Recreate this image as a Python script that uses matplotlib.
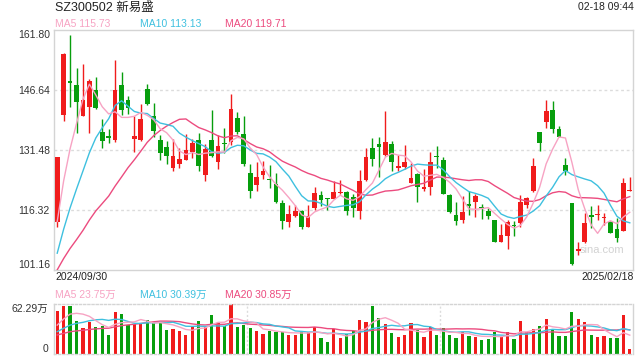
import numpy as np
import pandas as pd
import matplotlib
matplotlib.use("Agg")
import matplotlib.pyplot as plt

plt.rcParams['font.family'] = ['Liberation Sans', 'Noto Sans CJK SC', 'DejaVu Sans']

# daily candles 2024/09/30 .. 2025/02/18
open_ = [113.2, 140.2, 148.8, 147.7, 140.1, 142.2, 146.6, 135.9, 134.9, 134.0,
         147.8, 144.0, 134.3, 134.0, 146.9, 140.1, 134.0, 132.1, 127.0, 128.0,
         129.0, 130.8, 134.0, 125.0, 134.0, 128.3, 133.1, 133.4, 139.5, 135.5,
         125.6, 122.5, 125.0, 124.0, 122.8, 118.0, 113.2, 114.9, 116.1, 112.1,
         116.9, 120.1, 119.2, 119.1, 120.6, 120.8, 119.5, 116.1, 123.9, 131.9,
         133.0, 130.2, 133.0, 126.9, 127.1, 123.2, 125.4, 121.7, 122.0, 130.0,
         129.0, 120.1, 115.1, 113.8, 117.8, 118.2, 117.0, 116.1, 113.8, 108.3,
         109.8, 112.5, 113.1, 117.6, 121.0, 135.9, 138.4, 141.6, 136.7, 127.7,
         118.0, 106.0, 108.1, 115.0, 115.0, 114.3, 113.2, 111.5, 111.1, 121.0]
high = [129.7, 156.0, 160.3, 152.0, 153.0, 149.4, 149.9, 139.2, 136.7, 154.0,
        151.0, 145.1, 140.1, 142.9, 148.1, 143.2, 135.1, 133.6, 134.3, 131.9,
        135.5, 134.3, 135.6, 132.9, 141.5, 135.3, 137.0, 145.6, 141.0, 139.9,
        127.9, 128.5, 128.7, 127.7, 125.6, 118.7, 117.6, 117.6, 116.3, 117.6,
        122.0, 121.2, 119.4, 123.7, 123.9, 121.0, 120.3, 126.4, 131.9, 134.4,
        134.8, 141.2, 133.6, 130.2, 132.7, 128.1, 125.6, 126.7, 130.9, 132.5,
        129.6, 120.3, 118.4, 119.9, 121.0, 120.4, 117.8, 116.9, 113.8, 112.7,
        113.8, 113.5, 120.1, 119.5, 129.4, 136.0, 144.1, 143.7, 137.5, 129.4,
        118.0, 108.3, 115.5, 117.2, 117.6, 115.5, 113.4, 114.2, 124.3, 124.7]
low = [112.1, 138.8, 142.2, 135.6, 139.9, 135.6, 141.8, 131.9, 133.1, 133.4,
       140.3, 140.5, 130.9, 133.8, 142.7, 134.8, 128.9, 127.9, 126.2, 126.8,
       128.8, 129.4, 126.2, 123.7, 129.6, 126.6, 130.6, 132.7, 135.4, 127.3,
       119.3, 121.2, 124.2, 121.8, 118.0, 111.4, 112.1, 114.4, 111.5, 112.0,
       116.3, 117.2, 116.3, 119.0, 120.3, 115.1, 114.6, 114.0, 123.7, 127.5,
       124.7, 130.0, 126.0, 126.0, 126.7, 123.1, 118.2, 121.2, 120.1, 126.9,
       120.3, 115.5, 112.5, 113.0, 115.1, 114.6, 114.0, 114.0, 108.3, 108.2,
       106.4, 109.8, 112.1, 116.9, 120.8, 131.1, 137.0, 135.7, 134.6, 125.0,
       102.3, 105.0, 108.0, 111.8, 113.8, 112.5, 110.4, 108.1, 111.0, 121.0]
close = [129.7, 155.7, 148.4, 143.4, 143.9, 148.7, 142.0, 133.6, 134.4, 146.6,
         141.6, 142.0, 135.0, 139.3, 142.9, 136.1, 130.6, 130.0, 130.0, 129.2,
         131.5, 133.2, 127.5, 131.7, 129.8, 132.5, 132.9, 141.8, 136.0, 127.9,
         121.0, 124.6, 126.2, 123.8, 118.2, 113.6, 115.3, 116.1, 112.1, 114.8,
         120.7, 118.7, 119.0, 120.8, 120.9, 116.1, 116.9, 123.7, 129.6, 129.2,
         132.1, 133.4, 128.5, 127.4, 128.4, 124.3, 122.0, 122.0, 128.5, 129.6,
         120.4, 115.9, 113.6, 115.7, 117.2, 119.9, 116.8, 114.9, 108.3, 110.0,
         113.2, 112.2, 118.3, 119.3, 127.4, 133.3, 141.3, 136.8, 134.8, 126.0,
         102.7, 106.5, 113.0, 114.6, 115.2, 114.5, 110.6, 109.2, 123.1, 121.2]
# volume in 万手
volume = [54.0, 60.2, 60.2, 41.1, 32.8, 40.3, 33.6, 34.9, 23.7, 52.7,
          50.3, 36.1, 37.4, 38.2, 42.4, 39.0, 39.0, 29.9, 31.1, 29.1,
          23.7, 34.1, 41.1, 34.1, 48.6, 39.0, 35.3, 62.29, 33.6, 36.1,
          32.4, 28.7, 24.9, 28.7, 27.8, 27.8, 23.7, 23.7, 27.8, 27.8,
          34.1, 20.3, 15.4, 31.1, 20.3, 24.9, 28.7, 42.4, 40.3, 60.2,
          45.3, 37.8, 26.6, 21.6, 23.7, 39.0, 29.9, 21.6, 34.1, 23.7,
          32.8, 23.7, 20.3, 27.8, 22.8, 21.6, 17.9, 19.1, 27.8, 21.6,
          27.8, 19.1, 41.5, 27.8, 31.6, 35.3, 44.0, 30.7, 22.8, 22.8,
          52.7, 44.0, 40.3, 23.7, 21.0, 22.5, 20.3, 20.3, 48.5, 5.8]
# closes / volumes before the window, needed for the moving averages
prev_close = [98.5, 97.8, 99.0, 97.2, 96.5, 95.8, 96.4, 97.0, 96.0, 95.8,
              95.2, 94.6, 96.0, 98.4, 102.8, 104.5, 108.0, 111.6, 113.2]
prev_vol = [20, 19, 21, 18, 19, 20, 22, 19, 18, 20,
            18, 21, 19, 20, 20, 22, 30, 36, 38]

# values printed in the legends
ma_labels = ['MA5 115.73', 'MA10 113.13', 'MA20 119.71']
vma_labels = ['MA5 23.75万', 'MA10 30.39万', 'MA20 30.85万']

price_ticks = [161.80, 146.64, 131.48, 116.32, 101.16]
vol_max = 62.29

RED = '#f01c1c'
GREEN = '#079e0d'
C_MA5 = '#f7a3c3'
C_MA10 = '#3ec0df'
C_MA20 = '#ec4b7f'
GRID = '#dcdcdc'

W, H = 640, 360
fig = plt.figure(figsize=(6.4, 3.6), dpi=100)


def fx(px):
    return px / W


def fy(py):
    return 1 - py / H


ax = fig.add_axes([fx(54), fy(270), fx(633) - fx(54), fy(29.5) - fy(270)])
axv = fig.add_axes([fx(54), fy(354), fx(633) - fx(54), fy(304) - fy(354)])

o = np.array(open_)
h = np.array(high)
l = np.array(low)
c = np.array(close)
v = np.array(volume)
x = np.arange(len(c))
cols = np.where(c >= o, RED, GREEN)

# moving averages
npre = len(prev_close)
cs = pd.Series(prev_close + close)
vs = pd.Series(prev_vol + volume)
ma = {k: cs.rolling(k).mean().values[npre:] for k in (5, 10, 20)}
vma = {k: vs.rolling(k).mean().values[npre:] for k in (5, 10, 20)}

# price panel
for gv in price_ticks[1:-1]:
    ax.axhline(gv, color=GRID, lw=1, ls=(0, (2, 2)), zorder=0)
ax.vlines(x, l, h, colors=cols, lw=1, zorder=2)
body = np.maximum(np.abs(c - o), 0.3)
ax.bar(x, body, bottom=np.minimum(o, c), width=0.74, color=cols, lw=0, zorder=3)
ax.plot(x, ma[20], color=C_MA20, lw=1, zorder=4)
ax.plot(x, ma[10], color=C_MA10, lw=1, zorder=4)
ax.plot(x, ma[5], color=C_MA5, lw=1, zorder=4)
ax.set_xlim(-0.5, len(c) - 0.5)
ax.set_ylim(price_ticks[-1], price_ticks[0])
ax.set_xticks([])
ax.set_yticks(price_ticks)
ax.set_yticklabels([f'{t:.2f}' for t in price_ticks])
ax.tick_params(axis='y', length=0, pad=3, labelsize=7.5, labelcolor='#333333')
lbls = ax.get_yticklabels()
lbls[0].set_va('top')
lbls[-1].set_va('bottom')
for s in ax.spines.values():
    s.set_color('#d4d4d4')
    s.set_linewidth(1)
ax.text(0.985, 0.085, 'sina.com', transform=ax.transAxes, ha='right', va='center',
        fontsize=8, color='#d2d2d2', zorder=1)

# volume panel
xl = (-0.5, len(c) - 0.5)
for k in (1, 2):
    axv.axvline(xl[0] + (xl[1] - xl[0]) * k / 3, color=GRID, lw=1, ls=(0, (1.5, 1.5)), zorder=0)
axv.bar(x, v, width=0.5, color=cols, lw=0, zorder=2)
axv.plot(x, vma[20], color=C_MA20, lw=1, zorder=3)
axv.plot(x, vma[10], color=C_MA10, lw=1, zorder=3)
axv.plot(x, vma[5], color=C_MA5, lw=1, zorder=3)
axv.set_xlim(*xl)
axv.set_ylim(0, vol_max)
axv.set_xticks([])
axv.set_yticks([0, vol_max])
axv.set_yticklabels(['0', f'{vol_max:.2f}万'])
axv.tick_params(axis='y', length=0, pad=4, labelsize=7.5, labelcolor='#333333')
vl = axv.get_yticklabels()
vl[0].set_va('bottom')
vl[1].set_va('top')
for name, s in axv.spines.items():
    s.set_color('#d4d4d4')
    s.set_linewidth(1)
    if name in ('top', 'bottom'):
        s.set_linestyle((0, (1.5, 1.5)))

# header texts
fig.text(fx(55), fy(8), 'SZ300502 新易盛', fontsize=9, color='#222222', ha='left', va='center')
fig.text(fx(634), fy(7.5), '02-18 09:44', fontsize=7.5, color='#222222', ha='right', va='center')
ma_cols = [C_MA5, C_MA10, C_MA20]
for px, txt, col in zip((55, 140, 225), ma_labels, ma_cols):
    fig.text(fx(px), fy(24), txt, fontsize=7.5, color=col, ha='left', va='center')
for px, txt, col in zip((55, 140, 225), vma_labels, ma_cols):
    fig.text(fx(px), fy(295), txt, fontsize=7.5, color=col, ha='left', va='center')
fig.text(fx(55), fy(277.5), '2024/09/30', fontsize=7.5, color='#222222', ha='left', va='center')
fig.text(fx(634), fy(277.5), '2025/02/18', fontsize=7.5, color='#222222', ha='right', va='center')

fig.savefig('out.png', dpi=100, facecolor='white')
